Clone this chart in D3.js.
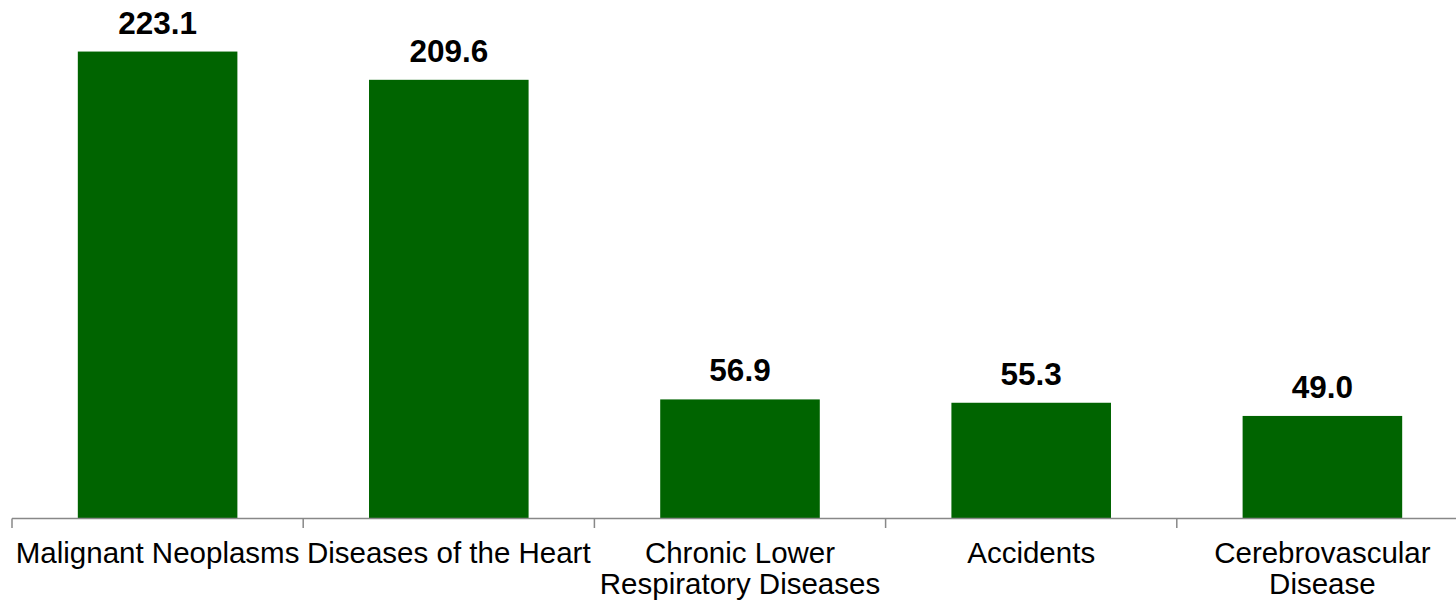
<!DOCTYPE html>
<html><head><meta charset="utf-8">
<script src="https://cdn.jsdelivr.net/npm/d3@7"></script>
<style>html,body{margin:0;padding:0;background:#fff;}svg{display:block;}</style>
</head><body>
<svg id="chart" width="1456" height="603"></svg>
<script>
const categories = ["Malignant Neoplasms", "Diseases of the Heart", "Chronic Lower Respiratory Diseases", "Accidents", "Cerebrovascular Disease"];
const labelLines = [["Malignant Neoplasms"], ["Diseases of the Heart"], ["Chronic Lower", "Respiratory Diseases"], ["Accidents"], ["Cerebrovascular", "Disease"]];
const values = [223.1, 209.6, 56.9, 55.3, 49.0];

const W = 1456, H = 603;
const svg = d3.select("#chart");
const baseY = 518.5;
const x = d3.scaleBand().domain(categories).range([12, 1468]).paddingInner(0.452).paddingOuter(0.226);
const y = d3.scaleLinear().domain([0, 250]).range([baseY, baseY - 250 * 2.093]);

svg.selectAll("rect.bar").data(values).join("rect")
  .attr("class", "bar")
  .attr("x", (d, i) => x(categories[i]))
  .attr("width", x.bandwidth())
  .attr("y", d => y(d))
  .attr("height", d => y(0) - y(d))
  .attr("fill", "#006400");

svg.selectAll("text.val").data(values).join("text")
  .attr("class", "val")
  .attr("x", (d, i) => x(categories[i]) + x.bandwidth() / 2)
  .attr("y", d => y(d) - 18)
  .attr("text-anchor", "middle")
  .attr("font-family", "Liberation Sans, Arial, sans-serif")
  .attr("font-weight", "bold")
  .attr("font-size", 31.5)
  .attr("fill", "#000")
  .text(d => d.toFixed(1));

// axis line
svg.append("line").attr("x1", 12).attr("x2", W).attr("y1", baseY).attr("y2", baseY)
  .attr("stroke", "#888").attr("stroke-width", 1.5);
// ticks at band boundaries
const bounds = categories.map(c => x(c) - x.step() * x.paddingInner() / 2);
svg.selectAll("line.tick").data(bounds).join("line")
  .attr("class", "tick")
  .attr("x1", d => d).attr("x2", d => d)
  .attr("y1", baseY).attr("y2", baseY + 9.5)
  .attr("stroke", "#888").attr("stroke-width", 1.5);

const lbl = svg.selectAll("text.cat").data(labelLines).join("text")
  .attr("class", "cat")
  .attr("text-anchor", "middle")
  .attr("font-family", "Liberation Sans, Arial, sans-serif")
  .attr("font-size", 29.5)
  .attr("fill", "#000");
lbl.each(function(lines, i) {
  const cx = x(categories[i]) + x.bandwidth() / 2;
  d3.select(this).selectAll("tspan").data(lines).join("tspan")
    .attr("x", cx)
    .attr("y", (d, j) => 563 + j * 31)
    .text(d => d);
});
</script>
</body></html>
